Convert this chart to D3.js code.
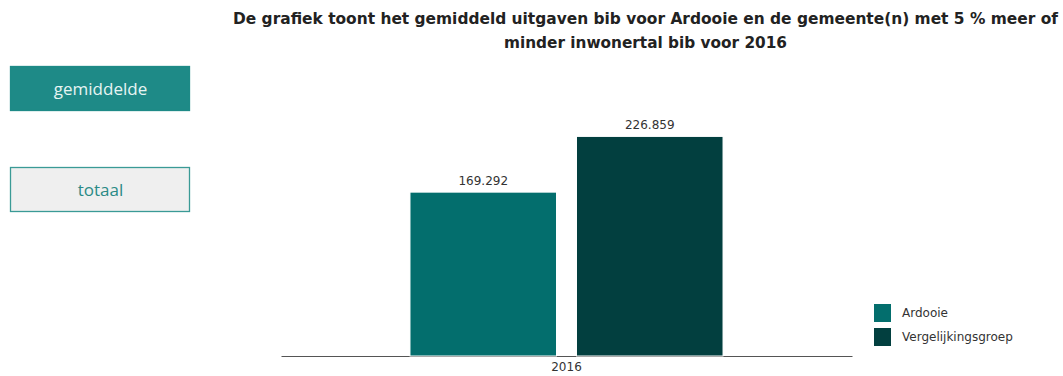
<!DOCTYPE html>
<html><head><meta charset="utf-8">
<script src="https://cdn.jsdelivr.net/npm/d3@7"></script>
<style>body{margin:0;background:#fff;}svg{display:block;}</style>
</head><body><svg id="c" width="1063" height="376"></svg>
<script>
const categories = ["2016"];
const seriesNames = ["Ardooie", "Vergelijkingsgroep"];
const seriesValues = [[169.292], [226.859]];
const valueLabels = [["169.292"], ["226.859"]];
const colors = ["#036e6d", "#023f3f"];
const titleLines = ["De grafiek toont het gemiddeld uitgaven bib voor Ardooie en de gemeente(n) met 5 % meer of", "minder inwonertal bib voor 2016"];
const buttons = ["gemiddelde", "totaal"];

const svg = d3.select("#c");
const font = "Verdana, 'DejaVu Sans', sans-serif";

// title
svg.selectAll("text.title").data(titleLines).enter().append("text")
  .attr("x", 645.5).attr("y", (d,i)=>24+i*24).attr("text-anchor","middle")
  .attr("font-family","'DejaVu Sans', Verdana, sans-serif").attr("font-weight","bold")
  .attr("font-size", 15.3).attr("fill","#222")
  .attr("textLength",(d,i)=>i===0?825:null).attr("lengthAdjust","spacingAndGlyphs")
  .text(d=>d);

// buttons
const btn = svg.selectAll("g.btn").data(buttons).enter().append("g")
  .attr("transform",(d,i)=>`translate(10.5,${i===0?66.5:167.5})`);
btn.append("rect").attr("width",179).attr("height",44)
  .attr("fill",(d,i)=>i===0?"#1e8a87":"#efefef")
  .attr("stroke",(d,i)=>i===0?"#1e8a87":"#3a9a96").attr("stroke-width",1.3);
btn.append("text").attr("x",90).attr("y",28).attr("text-anchor","middle")
  .attr("font-family","'Open Sans', 'Noto Sans', sans-serif").attr("font-size",17)
  .attr("fill",(d,i)=>i===0?"#e6f4f3":"#2a8a86").text(d=>d);

// scales
const x0 = d3.scaleBand().domain(categories).range([281, 852]).paddingInner(0).paddingOuter(0.412);
const x1 = d3.scaleBand().domain(seriesNames).range([0, x0.bandwidth()]).paddingInner(0.12).paddingOuter(0);
const y = d3.scaleLinear().domain([0, 250]).range([356, 114]);

// axis
const xAxis = d3.axisBottom(x0).tickSize(0).tickPadding(6);
const ax = svg.append("g").attr("transform","translate(0,356)").call(xAxis);
ax.select(".domain").attr("stroke","#555").attr("stroke-width",1);
ax.selectAll("text").attr("font-family",font).attr("font-size",12).attr("fill","#333");

// bars
seriesNames.forEach((s, si) => {
  categories.forEach((c, ci) => {
    const v = seriesValues[si][ci];
    const bx = x0(c) + x1(s);
    svg.append("rect").attr("x", bx).attr("y", y(v)).attr("width", x1.bandwidth())
      .attr("height", y(0) - y(v)).attr("fill", colors[si]).attr("stroke","#fff").attr("stroke-width",1);
    svg.append("text").attr("x", bx + x1.bandwidth()/2).attr("y", y(v) - 7)
      .attr("text-anchor","middle").attr("font-family",font).attr("font-size",12)
      .attr("fill","#333").text(valueLabels[si][ci]);
  });
});

// legend
const lg = svg.selectAll("g.lg").data(seriesNames).enter().append("g")
  .attr("transform",(d,i)=>`translate(874,${304+i*24})`);
lg.append("rect").attr("width",17).attr("height",18).attr("fill",(d,i)=>colors[i]);
lg.append("text").attr("x",28).attr("y",13).attr("font-family",font).attr("font-size",12)
  .attr("fill","#333").text(d=>d);
</script></body></html>
